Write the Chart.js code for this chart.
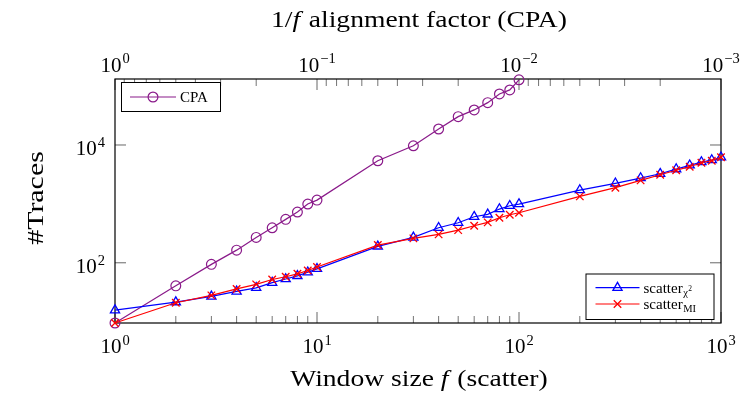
<!DOCTYPE html>
<html>
<head>
<meta charset="utf-8">
<script src="https://cdn.jsdelivr.net/npm/chart.js@4/dist/chart.umd.min.js"></script>
<style>
  html, body { margin: 0; padding: 0; background: #fff; }
  #wrap { width: 746px; height: 394px; }
</style>
</head>
<body>
<div id="wrap"><canvas id="tracesChart" width="746" height="394"></canvas></div>
<script>
// window sizes f (shared by all series)
const windowSizes = [1, 2, 3, 4, 5, 6, 7, 8, 9, 10, 20, 30, 40, 50, 60, 70, 80, 90, 100,
  200, 300, 400, 500, 600, 700, 800, 900, 1000];

// number of traces per method
const cpaTraces = [9.5, 40.6, 94, 164, 270, 393, 546, 727, 994, 1160,
  5400, 9700, 18700, 30300, 39400, 52400, 73600, 86100, 128000];
const chi2Traces = [15.7, 21.5, 26.9, 32.7, 37.6, 46, 53, 60, 69, 79,
  190, 270, 393, 478, 605, 664, 817, 930, 994,
  1718, 2234, 2748, 3250, 3900, 4520, 5140, 5560, 6180];
const miTraces = [9.5, 21, 28, 36, 43, 52, 58, 65, 74, 85,
  200, 260, 304, 359, 425, 486, 582, 655, 708,
  1343, 1884, 2510, 3130, 3720, 4280, 5000, 5410, 6180];

// labelled ticks
const xTicks = [1, 10, 100, 1000];
const topTicks = [1, 0.1, 0.01, 0.001];
const yTicks = [100, 10000];
const yMin = 9.5, yMax = 132000;

const SERIF = '"Liberation Serif", "DejaVu Serif", serif';
const PURPLE = "#8a1a8a";

const toPoints = (vals) => vals.map((v, i) => ({ x: windowSizes[i], y: v }));

// "10" with a raised exponent
function drawPow(ctx, exp, x, y, align) {
  const base = "10";
  const sup = exp < 0 ? "\u2212" + (-exp) : String(exp);
  ctx.font = "21px " + SERIF;
  const wb = ctx.measureText(base).width;
  ctx.font = "14.5px " + SERIF;
  const ws = ctx.measureText(sup).width;
  const total = wb + ws + 1;
  let left = align === "right" ? x - total : x - total / 2;
  ctx.textAlign = "left";
  ctx.textBaseline = "alphabetic";
  ctx.font = "21px " + SERIF;
  ctx.fillText(base, left, y);
  ctx.font = "14.5px " + SERIF;
  ctx.fillText(sup, left + wb + 1, y - 8.5);
}

// text made of plain / italic pieces, centred on x, widened by sx
function drawRich(ctx, parts, x, y, size, sx) {
  let w = 0;
  parts.forEach(p => {
    ctx.font = (p.italic ? "italic " : "") + size + "px " + SERIF;
    p.w = ctx.measureText(p.t).width;
    w += p.w;
  });
  ctx.save();
  ctx.translate(x, y);
  ctx.scale(sx, 1);
  let cx = -w / 2;
  ctx.textAlign = "left";
  ctx.textBaseline = "alphabetic";
  parts.forEach(p => {
    ctx.font = (p.italic ? "italic " : "") + size + "px " + SERIF;
    ctx.fillText(p.t, cx, 0);
    cx += p.w + (p.italic ? 1.5 : 0);
  });
  ctx.restore();
}

function legendEntry(ctx, ds, x0, x1, y, label) {
  ctx.save();
  ctx.strokeStyle = ds.borderColor;
  ctx.lineWidth = ds.borderWidth;
  ctx.beginPath();
  ctx.moveTo(x0, y);
  ctx.lineTo(x1, y);
  ctx.stroke();
  ctx.fillStyle = "transparent";
  ctx.lineWidth = ds.pointBorderWidth;
  Chart.helpers.drawPoint(ctx, {
    pointStyle: ds.pointStyle, radius: ds.pointRadius, rotation: 0, borderWidth: ds.pointBorderWidth
  }, (x0 + x1) / 2, y);
  ctx.restore();
  ctx.fillStyle = "#000";
  ctx.textBaseline = "alphabetic";
  ctx.textAlign = "left";
  const tx = x1 + 4;
  const by = y + 5;
  ctx.font = "15px " + SERIF;
  ctx.fillText(label.main, tx, by);
  if (label.sub) {
    const w = ctx.measureText(label.main).width;
    ctx.font = "10.5px " + SERIF;
    ctx.fillText(label.sub, tx + w + 0.5, by + 3);
    if (label.subSup) {
      const w2 = ctx.measureText(label.sub).width;
      ctx.font = "7.5px " + SERIF;
      ctx.fillText(label.subSup, tx + w + w2 + 1, by - 2);
    }
  }
}

const framePlugin = {
  id: "frame",
  beforeDatasetsDraw(chart) {
    const { ctx, chartArea: a, scales } = chart;
    ctx.save();
    ctx.strokeStyle = "#000";
    ctx.lineWidth = 1;
    // minor and major ticks, pointing into the plot
    const decades = [1, 10, 100];
    decades.forEach(d => {
      for (let m = 2; m <= 9; m++) {
        const px = scales.x.getPixelForValue(m * d);
        ctx.strokeStyle = "rgba(0,0,0,0.55)";
        ctx.beginPath(); ctx.moveTo(px, a.bottom); ctx.lineTo(px, a.bottom - 7); ctx.stroke();
        const tx = scales.x2.getPixelForValue(m / (d * 10));
        ctx.beginPath(); ctx.moveTo(tx, a.top); ctx.lineTo(tx, a.top + 7); ctx.stroke();
      }
    });
    ctx.strokeStyle = "rgba(0,0,0,0.6)";
    xTicks.forEach(v => {
      const px = scales.x.getPixelForValue(v);
      ctx.beginPath(); ctx.moveTo(px, a.bottom); ctx.lineTo(px, a.bottom - 11); ctx.stroke();
    });
    topTicks.forEach(v => {
      const px = scales.x2.getPixelForValue(v);
      ctx.beginPath(); ctx.moveTo(px, a.top); ctx.lineTo(px, a.top + 11); ctx.stroke();
    });
    yTicks.forEach(v => {
      const py = scales.y.getPixelForValue(v);
      ctx.beginPath(); ctx.moveTo(a.left, py); ctx.lineTo(a.left + 11, py); ctx.stroke();
      ctx.beginPath(); ctx.moveTo(a.right, py); ctx.lineTo(a.right - 11, py); ctx.stroke();
    });
    ctx.strokeStyle = "#000";
    ctx.lineWidth = 1.2;
    ctx.strokeRect(a.left, a.top, a.right - a.left, a.bottom - a.top);
    ctx.restore();
  },
  afterDraw(chart) {
    const { ctx, chartArea: a, scales } = chart;
    ctx.save();
    ctx.fillStyle = "#000";
    xTicks.forEach(v => drawPow(ctx, Math.round(Math.log10(v)), scales.x.getPixelForValue(v), a.bottom + 30, "center"));
    topTicks.forEach(v => drawPow(ctx, Math.round(Math.log10(v)), scales.x2.getPixelForValue(v), a.top - 7.5, "center"));
    yTicks.forEach(v => drawPow(ctx, Math.round(Math.log10(v)), a.left - 10, scales.y.getPixelForValue(v) + 10.5, "right"));

    const cx = (a.left + a.right) / 2;
    drawRich(ctx, [{ t: "1/" }, { t: "f", italic: true }, { t: " alignment factor (CPA)" }], cx, 27, 23, 1.2);
    drawRich(ctx, [{ t: "Window size " }, { t: "f", italic: true }, { t: " (scatter)" }], cx, 386, 23, 1.2);

    ctx.save();
    ctx.translate(43, (a.top + a.bottom) / 2 - 3);
    ctx.rotate(-Math.PI / 2);
    drawRich(ctx, [{ t: "#Traces" }], 0, 0, 23, 1.3);
    ctx.restore();

    // legends
    const ds = chart.data.datasets;
    ctx.lineWidth = 1;
    ctx.fillStyle = "#fff";
    ctx.strokeStyle = "#000";
    const b1 = { l: a.left + 6.5, t: a.top + 3.5, w: 99, h: 29 };
    ctx.fillRect(b1.l, b1.t, b1.w, b1.h);
    ctx.strokeRect(b1.l, b1.t, b1.w, b1.h);
    legendEntry(ctx, ds[0], b1.l + 8.5, b1.l + 54.5, b1.t + 14.5, { main: "CPA" });

    const b2 = { l: a.right - 135, t: a.bottom - 49, w: 128, h: 45.5 };
    ctx.fillStyle = "#fff";
    ctx.fillRect(b2.l, b2.t, b2.w, b2.h);
    ctx.strokeRect(b2.l, b2.t, b2.w, b2.h);
    legendEntry(ctx, ds[1], b2.l + 9.5, b2.l + 53.5, b2.t + 13.7, { main: "scatter", sub: "\u03c7", subSup: "2" });
    legendEntry(ctx, ds[2], b2.l + 9.5, b2.l + 53.5, b2.t + 30, { main: "scatter", sub: "MI" });
    ctx.restore();
  }
};

new Chart(document.getElementById("tracesChart"), {
  type: "line",
  data: {
    datasets: [
      {
        label: "CPA",
        data: toPoints(cpaTraces),
        borderColor: PURPLE,
        backgroundColor: "transparent",
        borderWidth: 1.2,
        pointStyle: "circle",
        pointRadius: 4.9,
        pointBorderWidth: 1.2,
        pointBackgroundColor: "transparent",
        clip: false,
        order: 2
      },
      {
        label: "scatter_chi2",
        data: toPoints(chi2Traces),
        borderColor: "#0000ff",
        backgroundColor: "transparent",
        borderWidth: 1.2,
        pointStyle: "triangle",
        pointRadius: 5.3,
        pointBorderWidth: 1.3,
        pointBackgroundColor: "transparent",
        clip: false,
        order: 1
      },
      {
        label: "scatter_MI",
        data: toPoints(miTraces),
        borderColor: "#ff0000",
        backgroundColor: "transparent",
        borderWidth: 1.2,
        pointStyle: "crossRot",
        pointRadius: 5.3,
        pointBorderWidth: 1.3,
        pointBackgroundColor: "transparent",
        clip: false,
        order: 0
      }
    ]
  },
  options: {
    responsive: false,
    animation: false,
    devicePixelRatio: 1,
    layout: { padding: { left: 115, right: 25, top: 79, bottom: 71 } },
    plugins: { legend: { display: false }, tooltip: { enabled: false } },
    elements: { line: { tension: 0 } },
    scales: {
      x: { type: "logarithmic", position: "bottom", min: 1, max: 1000, display: false },
      x2: { type: "logarithmic", axis: "x", position: "top", min: 0.001, max: 1, reverse: true, display: false },
      y: { type: "logarithmic", min: yMin, max: yMax, display: false }
    }
  },
  plugins: [framePlugin]
});
</script>
</body>
</html>
